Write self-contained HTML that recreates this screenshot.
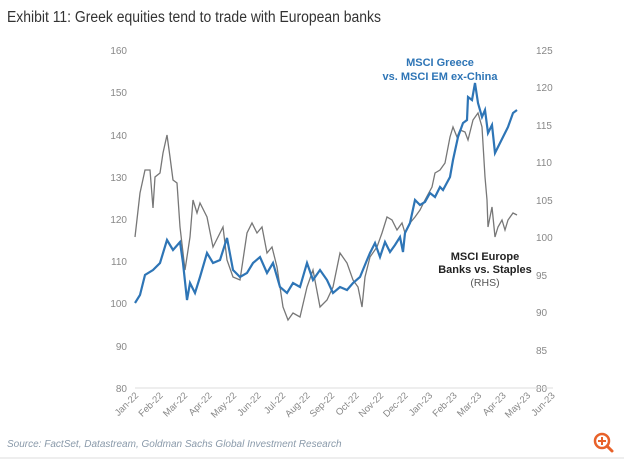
<!DOCTYPE html>
<html><head><meta charset="utf-8"><style>
body{margin:0;background:#fff;width:624px;height:460px;overflow:hidden;font-family:"Liberation Sans",sans-serif}
</style></head><body>
<svg width="624" height="460" xmlns="http://www.w3.org/2000/svg" font-family="Liberation Sans, sans-serif">
<text x="7" y="22" font-size="15.5" fill="#333" textLength="374" lengthAdjust="spacingAndGlyphs">Exhibit 11: Greek equities tend to trade with European banks</text>
<g font-size="10" fill="#888" text-anchor="end">
<text x="127" y="54">160</text><text x="127" y="96">150</text><text x="127" y="139">140</text><text x="127" y="181">130</text><text x="127" y="223">120</text><text x="127" y="265">110</text><text x="127" y="307">100</text><text x="127" y="350">90</text><text x="127" y="392">80</text>
</g>
<g font-size="10" fill="#888">
<text x="536" y="54">125</text><text x="536" y="91">120</text><text x="536" y="129">115</text><text x="536" y="166">110</text><text x="536" y="204">105</text><text x="536" y="241">100</text><text x="536" y="279">95</text><text x="536" y="316">90</text><text x="536" y="354">85</text><text x="536" y="392">80</text>
</g>
<line x1="135" y1="388" x2="553" y2="388" stroke="#ddd" stroke-width="1"/>
<g font-size="9.5" fill="#888" text-anchor="end">
<text transform="translate(139,396) rotate(-45)">Jan-22</text>
<text transform="translate(163.5,396) rotate(-45)">Feb-22</text>
<text transform="translate(188,396) rotate(-45)">Mar-22</text>
<text transform="translate(212.5,396) rotate(-45)">Apr-22</text>
<text transform="translate(237,396) rotate(-45)">May-22</text>
<text transform="translate(261.5,396) rotate(-45)">Jun-22</text>
<text transform="translate(286,396) rotate(-45)">Jul-22</text>
<text transform="translate(310.5,396) rotate(-45)">Aug-22</text>
<text transform="translate(335,396) rotate(-45)">Sep-22</text>
<text transform="translate(359.5,396) rotate(-45)">Oct-22</text>
<text transform="translate(384,396) rotate(-45)">Nov-22</text>
<text transform="translate(408.5,396) rotate(-45)">Dec-22</text>
<text transform="translate(433,396) rotate(-45)">Jan-23</text>
<text transform="translate(457.5,396) rotate(-45)">Feb-23</text>
<text transform="translate(482,396) rotate(-45)">Mar-23</text>
<text transform="translate(506.5,396) rotate(-45)">Apr-23</text>
<text transform="translate(531,396) rotate(-45)">May-23</text>
<text transform="translate(555.5,396) rotate(-45)">Jun-23</text>
</g>
<polyline fill="none" stroke="#777" stroke-width="1.3" points="135,237 140,193 145,170 150,170 153,208 155,177 160,173 163,153 167,135 170,157 173,180 177,183 180,227 185,270 190,237 193,200 197,213 200,203 207,217 213,247 220,233 223,227 227,260 233,277 240,280 247,233 252,223 257,233 262,227 267,253 272,247 277,267 283,307 288,320 293,313 300,317 307,287 313,270 320,307 327,300 333,287 340,253 347,263 353,280 358,287 362,307 365,277 370,257 377,247 382,233 387,217 392,220 397,230 402,223 405,233 410,223 415,217 420,210 425,200 432,187 435,173 440,170 445,163 450,137 453,127 457,137 460,130 465,132 468,140 473,120 478,113 482,127 485,177 487,200 488,227 492,207 495,237 498,227 502,220 505,230 508,220 513,213 517,215"/>
<polyline fill="none" stroke="#2e75b6" stroke-width="2.2" points="135,303 140,295 145,275 153,270 160,263 167,240 173,250 180,242 183,263 187,300 190,283 195,293 200,277 207,253 213,263 220,260 227,238 233,270 240,277 247,273 253,263 260,257 267,273 273,263 280,287 287,293 293,283 300,287 307,263 313,280 320,270 327,280 333,293 340,287 347,290 353,283 360,277 367,260 370,253 375,243 380,257 385,242 390,252 395,245 400,237 403,252 405,233 410,223 415,200 420,205 425,202 430,193 435,197 440,187 443,190 450,177 453,160 458,137 463,123 467,120 468,97 472,100 475,83 478,103 482,117 485,110 488,133 492,125 495,153 498,147 503,137 508,127 513,113 517,110"/>
<g font-size="11" font-weight="bold" fill="#2e75b6" text-anchor="middle">
<text x="440" y="66">MSCI Greece</text><text x="440" y="80">vs. MSCI EM ex-China</text>
</g>
<g font-size="11" fill="#222" text-anchor="middle">
<text x="485" y="260" font-weight="bold">MSCI Europe</text><text x="485" y="273" font-weight="bold">Banks vs. Staples</text><text x="485" y="286" fill="#555" font-size="10.5">(RHS)</text>
</g>
<text x="7" y="447" font-size="10" font-style="italic" fill="#8a9aaa">Source: FactSet, Datastream, Goldman Sachs Global Investment Research</text>
<circle cx="602" cy="441" r="7" fill="none" stroke="#e8622a" stroke-width="2.5"/>
<line x1="607" y1="446" x2="612" y2="451" stroke="#e8622a" stroke-width="3" stroke-linecap="round"/>
<path d="M602 437v8M598 441h8" stroke="#e8622a" stroke-width="2"/>
<line x1="0" y1="458" x2="624" y2="458" stroke="#eee" stroke-width="2"/>
</svg>
</body></html>
